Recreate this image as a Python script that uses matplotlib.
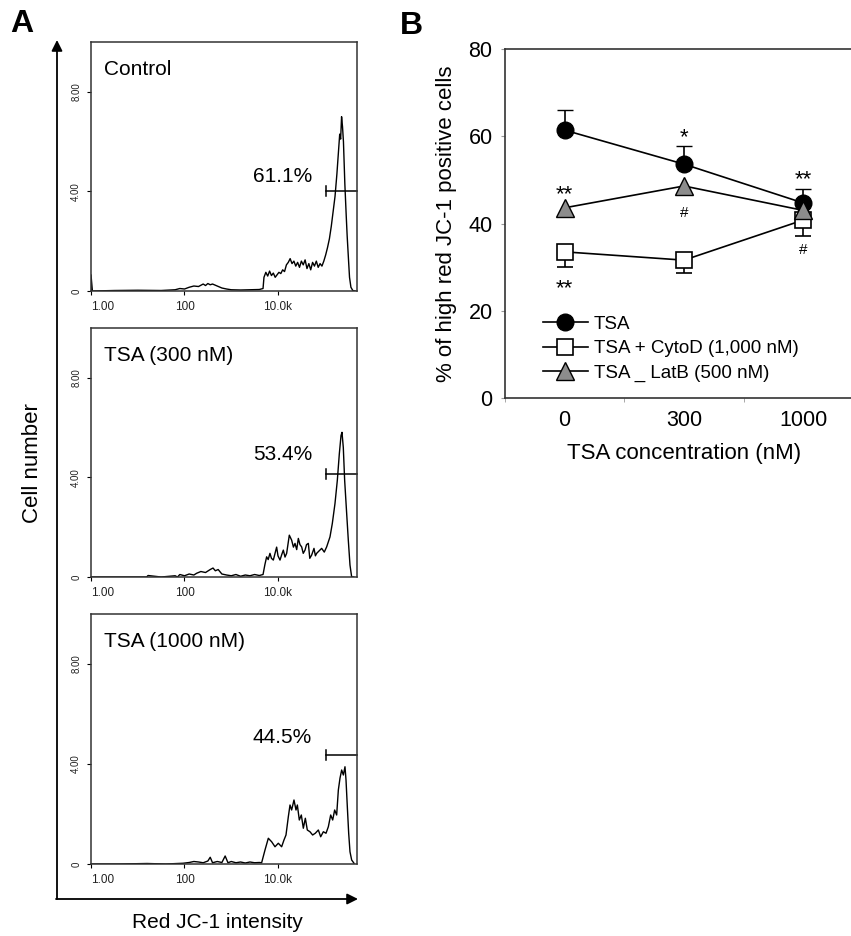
import numpy as np
import matplotlib
matplotlib.use('Agg')
import matplotlib.pyplot as plt
from matplotlib.ticker import NullLocator
from matplotlib.container import ErrorbarContainer

plt.rcParams['font.family'] = ['Liberation Sans', 'DejaVu Sans']

# ---- panel A: flow histograms (x in log10 decades, y in cell number) ----
hist_titles = ['Control', 'TSA (300 nM)', 'TSA (1000 nM)']
hist_pct = ['61.1%', '53.4%', '44.5%']
gate_y = [4.0, 4.15, 4.36]
pct_y = [4.6, 4.92, 5.07]
gate_start = 5.02

h1_dec = [0.0, 0.0, 0.03, 0.5, 1.0, 1.5, 1.8, 1.9, 2.0, 2.1, 2.2, 2.3, 2.4, 2.45, 2.5, 2.55,
          2.6, 2.7, 2.8, 2.9, 3.0, 3.2, 3.4, 3.6, 3.68, 3.7, 3.74, 3.78, 3.82, 3.86, 3.9, 3.94,
          3.98, 4.02, 4.06, 4.1, 4.14, 4.18, 4.22, 4.26, 4.3, 4.34, 4.38, 4.42, 4.46, 4.5, 4.54,
          4.58, 4.62, 4.66, 4.7, 4.74, 4.78, 4.82, 4.86, 4.9, 4.94, 4.98, 5.02, 5.06, 5.1, 5.14,
          5.18, 5.22, 5.26, 5.29, 5.32, 5.34, 5.36, 5.38, 5.40, 5.43, 5.46, 5.48, 5.51, 5.53,
          5.56, 5.6, 5.65]
h1_cnt = [0.0, 0.65, 0.0, 0.02, 0.03, 0.02, 0.05, 0.1, 0.08, 0.15, 0.2, 0.18, 0.28, 0.22, 0.3, 0.25,
          0.28, 0.2, 0.12, 0.08, 0.05, 0.04, 0.05, 0.06, 0.1, 0.55, 0.75, 0.6, 0.8, 0.62, 0.72, 0.55,
          0.65, 0.75, 0.7, 0.85, 0.78, 1.05, 1.15, 1.3, 1.1, 1.2, 1.0, 1.15, 0.95, 1.2, 1.05,
          1.25, 0.9, 1.1, 0.85, 1.15, 1.0, 1.2, 0.95, 1.1, 1.0, 1.2, 1.45, 1.75, 2.1, 2.6,
          3.2, 3.8, 4.7, 5.5, 6.3, 6.1, 7.0, 6.6, 6.0, 4.3, 3.0, 2.2, 1.2, 0.55,
          0.15, 0.02, 0.0]

h2_dec = [0.0, 0.6, 1.19, 1.22, 1.5, 1.8, 1.85, 1.9, 2.0, 2.1, 2.2, 2.26, 2.35, 2.45, 2.55, 2.61,
          2.66, 2.72, 2.8, 2.9, 3.0, 3.1, 3.2, 3.3, 3.4, 3.5, 3.6, 3.68, 3.72, 3.757, 3.79, 3.828,
          3.86, 3.90, 3.93, 3.971, 4.00, 4.043, 4.08, 4.114, 4.15, 4.185, 4.242, 4.292, 4.33,
          4.364, 4.40, 4.435, 4.47, 4.506, 4.54, 4.578, 4.61, 4.649, 4.68, 4.720, 4.770, 4.80,
          4.827, 4.88, 4.934, 4.99, 5.041, 5.112, 5.162, 5.219, 5.269, 5.312, 5.348, 5.369,
          5.397, 5.426, 5.469, 5.504, 5.540, 5.576, 5.62]
h2_cnt = [0.0, 0.0, 0.0, 0.06, 0.0, 0.05, 0.0, 0.1, 0.05, 0.12, 0.08, 0.15, 0.22, 0.18, 0.3, 0.36,
          0.25, 0.3, 0.12, 0.08, 0.05, 0.1, 0.03, 0.08, 0.05, 0.1, 0.06, 0.1, 0.5, 0.81, 0.7, 0.95,
          0.75, 0.68, 0.9, 1.2, 0.85, 0.68, 0.9, 1.08, 0.8, 0.95, 1.68, 1.48, 1.2,
          1.35, 1.1, 1.55, 1.3, 1.21, 0.95, 1.08, 1.3, 1.35, 0.75, 0.88, 1.15, 0.85,
          0.95, 1.05, 1.15, 1.0, 1.21, 1.61, 2.15, 2.95, 3.88, 4.95, 5.68, 5.81,
          5.2, 3.88, 2.55, 1.48, 0.48, 0.0, 0.0]

h3_dec = [0.0, 0.6, 1.2, 1.6, 1.97, 2.1, 2.2, 2.3, 2.4, 2.5, 2.55, 2.6, 2.7, 2.8, 2.87, 2.93,
          3.0, 3.1, 3.2, 3.3, 3.4, 3.5, 3.6, 3.65, 3.722, 3.793, 3.864, 3.936, 4.007, 4.078,
          4.128, 4.171, 4.221, 4.257, 4.292, 4.342, 4.385, 4.414, 4.456, 4.499, 4.542, 4.585,
          4.627, 4.684, 4.741, 4.798, 4.863, 4.913, 4.970, 5.027, 5.077, 5.127, 5.170, 5.212,
          5.255, 5.291, 5.326, 5.362, 5.398, 5.433, 5.455, 5.483, 5.512, 5.540, 5.576, 5.626]
h3_cnt = [0.0, 0.0, 0.02, 0.0, 0.03, 0.06, 0.1, 0.08, 0.05, 0.12, 0.27, 0.05, 0.1, 0.06, 0.32, 0.05,
          0.1, 0.05, 0.08, 0.04, 0.08, 0.05, 0.06, 0.05, 0.56, 1.03, 0.89, 0.69, 0.83, 0.69,
          0.96, 1.16, 1.89, 2.36, 2.16, 2.56, 2.16, 2.36, 1.76, 1.96, 1.43, 1.83,
          1.36, 1.29, 1.16, 1.23, 1.36, 1.09, 1.29, 1.23, 1.49, 1.96, 1.76, 2.16,
          1.96, 2.96, 3.43, 3.76, 3.56, 3.89, 3.36, 2.29, 1.23, 0.49, 0.16, 0.03]

hist_dec = [h1_dec, h2_dec, h3_dec]
hist_cnt = [h1_cnt, h2_cnt, h3_cnt]

# ---- panel B: line plot ----
conc_labels = ['0', '300', '1000']
tsa = [61.4, 53.6, 44.7]
tsa_err = [4.6, 4.2, 3.2]
cytod = [33.5, 31.6, 40.8]
cytod_err = [3.5, 2.9, 3.7]
latb = [43.6, 48.6, 43.0]
series_names = ['TSA', 'TSA + CytoD (1,000 nM)', 'TSA _ LatB (500 nM)']
# (x index, y, text, size)
marks = [(0, 45.3, '**', 16), (0, 23.9, '**', 16), (1, 58.5, '*', 16),
         (1, 41.5, '#', 11), (2, 48.8, '**', 16), (2, 33.0, '#', 11)]

W, H = 851, 936
fig = plt.figure(figsize=(W / 100, H / 100), dpi=100)


def frac(x0, top, x1, bottom):
    return [x0 / W, 1 - bottom / H, (x1 - x0) / W, (bottom - top) / H]


boxes = [(42, 291), (328, 577), (614, 864)]
for i in range(3):
    ax = fig.add_axes(frac(91, boxes[i][0], 357, boxes[i][1]))
    x = 10 ** np.array(hist_dec[i])
    ax.plot(x, hist_cnt[i], color='black', lw=1.0)
    ax.set_xscale('log')
    ax.set_xlim(1, 10 ** 5.69)
    ax.set_ylim(0, 10)
    ax.xaxis.set_minor_locator(NullLocator())
    ax.set_xticks([1, 100, 1e4])
    ax.set_xticklabels(['1.00', '100', '10.0k'], fontsize=8.5, color='#222222')
    ax.get_xticklabels()[0].set_ha('left')
    ax.set_yticks([0, 4, 8])
    ax.set_yticklabels(['0', '4.00', '8.00'], fontsize=7, rotation=90,
                       va='center', color='#222222')
    ax.tick_params(length=3, width=0.8, pad=4)
    for s in ax.spines.values():
        s.set_color('#333333')
        s.set_linewidth(1.1)
    ax.text(0.049, 0.89, hist_titles[i], transform=ax.transAxes, fontsize=15,
            ha='left', va='center')
    g0 = 10 ** gate_start
    ax.plot([g0, 10 ** 5.69], [gate_y[i], gate_y[i]], color='black', lw=1.1, clip_on=False)
    ax.plot([g0, g0], [gate_y[i] - 0.2, gate_y[i] + 0.2], color='black', lw=1.1)
    ax.text(10 ** 4.73, pct_y[i], hist_pct[i], fontsize=15, ha='right', va='center')

# axis arrows of panel A
plt.annotate('', xy=(57 / W, 1 - 40 / H), xytext=(57 / W, 1 - 899 / H),
             xycoords='figure fraction', textcoords='figure fraction',
             arrowprops=dict(arrowstyle='-|>', lw=1.3, color='black', mutation_scale=16,
                             shrinkA=0, shrinkB=0))
plt.annotate('', xy=(358 / W, 1 - 899 / H), xytext=(56 / W, 1 - 899 / H),
             xycoords='figure fraction', textcoords='figure fraction',
             arrowprops=dict(arrowstyle='-|>', lw=1.3, color='black', mutation_scale=16,
                             shrinkA=0, shrinkB=0))
fig.text(33 / W, 1 - 463 / H, 'Cell number', rotation=90, fontsize=16, ha='center', va='center')
fig.text(217 / W, 1 - 923 / H, 'Red JC-1 intensity', fontsize=15, ha='center', va='center')
fig.text(22 / W, 1 - 24 / H, 'A', fontsize=23, fontweight='bold', ha='center', va='center')
fig.text(411 / W, 1 - 26 / H, 'B', fontsize=23, fontweight='bold', ha='center', va='center')

# panel B
bx = fig.add_axes(frac(505, 49, 863, 398))
xs = np.arange(len(conc_labels))
bx.errorbar(xs, cytod, yerr=[cytod_err, [0] * 3], color='black', lw=1.2, marker='s',
            ms=12, mfc='white', mec='black', mew=1.2, capsize=6, elinewidth=1.2,
            zorder=3, label=series_names[1])
bx.errorbar(xs, tsa, yerr=[[0] * 3, tsa_err], color='black', lw=1.2, marker='o',
            ms=12, mfc='black', mec='black', capsize=6, elinewidth=1.2,
            zorder=4, label=series_names[0])
bx.plot(xs, latb, color='black', lw=1.2, marker='^', ms=12.5, mfc='#8c8c8c', mec='black',
        mew=1.0, zorder=5, label=series_names[2])
for xi, yi, t, fs in marks:
    bx.text(xi, yi, t, fontsize=fs, ha='center', va='baseline')
bx.set_xlim(-0.5, 2.5)
bx.set_ylim(0, 80)
bx.set_yticks([0, 20, 40, 60, 80])
bx.set_xticks(xs)
bx.set_xticklabels(conc_labels)
bx.set_xticks([-0.5, 0.5, 1.5, 2.5], minor=True)
bx.tick_params(axis='x', which='major', length=0, labelsize=15.5, pad=9)
bx.tick_params(axis='x', which='minor', length=3, color='#999999')
bx.tick_params(axis='y', length=3, color='#999999', labelsize=15.5, pad=6)
for s in bx.spines.values():
    s.set_color('#333333')
    s.set_linewidth(1.2)
bx.set_ylabel('% of high red JC-1 positive cells', fontsize=16, labelpad=8)
bx.set_xlabel('TSA concentration (nM)', fontsize=16, labelpad=8)
h, l = bx.get_legend_handles_labels()
# legend shows only line + marker, no error bars
h = [hh[0] if isinstance(hh, ErrorbarContainer) else hh for hh in h]
order = [l.index(n) for n in series_names]
bx.legend([h[k] for k in order], [l[k] for k in order], loc='upper left',
          bbox_to_anchor=(0.106, 0.236), borderaxespad=0, borderpad=0, frameon=False,
          fontsize=13.5, handlelength=2.4, handletextpad=0.3, labelspacing=0.39)

fig.savefig('out.png', dpi=100)
